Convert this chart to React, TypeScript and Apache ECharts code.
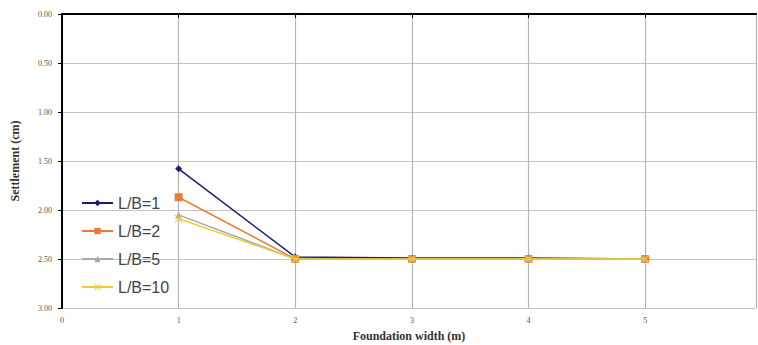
import React, { useEffect, useRef } from "react";
import * as echarts from "echarts";

const widths = [1, 2, 3, 4, 5];
const lb1 = [1.58, 2.48, 2.49, 2.49, 2.5];
const lb2 = [1.87, 2.5, 2.5, 2.5, 2.5];
const lb5 = [2.05, 2.5, 2.5, 2.5, 2.5];
const lb10 = [2.09, 2.5, 2.5, 2.5, 2.5];
const seriesNames = ["L/B=1", "L/B=2", "L/B=5", "L/B=10"];
const colors = ["#1c1a70", "#ea7d36", "#a9aaa8", "#efcb35"];

const xSymbol = "path://M0,1L1,0L5,4L9,0L10,1L6,5L10,9L9,10L5,6L1,10L0,9L4,5Z";

export default function App() {
  const ref = useRef<HTMLDivElement>(null);
  useEffect(() => {
    const chart = echarts.init(ref.current!, null, { renderer: "svg" });
    const all = [lb1, lb2, lb5, lb10];
    const symbols = ["diamond", "rect", "triangle", xSymbol];
    const sizes = [7, 8, 7, 8];
    const tickFont = { fontFamily: "Liberation Serif", fontSize: 8, color: "#555" };
    chart.setOption({
      animation: false,
      backgroundColor: "#fff",
      grid: {
        left: 62,
        top: 14,
        right: 2,
        bottom: 37,
        containLabel: false,
        outerBoundsMode: "none",
      },
      legend: {
        orient: "vertical",
        left: 76,
        top: 190,
        itemGap: 12,
        itemWidth: 31,
        itemHeight: 8,
        textStyle: { fontFamily: "Liberation Sans", fontSize: 16, color: "#444" },
        data: seriesNames,
      },
      xAxis: [
        {
          type: "value",
          min: 0,
          max: 5.95,
          interval: 1,
          axisLine: { show: true, lineStyle: { color: "#000", width: 1.5 } },
          axisTick: { show: true, length: 4, lineStyle: { color: "#000" } },
          axisLabel: { ...tickFont, margin: 8, showMaxLabel: false },
          splitLine: { show: true, lineStyle: { color: "#b5b5b5", width: 1.2 } },
          name: "Foundation width (m)",
          nameLocation: "middle",
          nameGap: 22,
          nameTextStyle: {
            fontFamily: "Liberation Serif",
            fontWeight: "bold",
            fontSize: 12,
            color: "#333",
          },
        },
        {
          type: "value",
          position: "top",
          min: 0,
          max: 5.95,
          interval: 1,
          axisLine: { show: true, lineStyle: { color: "#000", width: 2 } },
          axisTick: { show: false },
          axisLabel: { show: false },
          splitLine: { show: false },
        },
      ],
      yAxis: {
        type: "value",
        inverse: true,
        min: 0,
        max: 3,
        interval: 0.5,
        axisLine: { show: true, lineStyle: { color: "#000", width: 2 } },
        axisTick: { show: true, length: 4, lineStyle: { color: "#000" } },
        axisLabel: {
          ...tickFont,
          margin: 10,
          formatter: (v: number) => v.toFixed(2),
        },
        splitLine: { show: true, lineStyle: { color: "#c4c4c4", width: 1.2 } },
        name: "Settlement (cm)",
        nameLocation: "middle",
        nameGap: 41,
        nameTextStyle: {
          fontFamily: "Liberation Serif",
          fontWeight: "bold",
          fontSize: 12,
          color: "#333",
        },
      },
      series: all.map((d, i) => ({
        name: seriesNames[i],
        type: "line",
        xAxisIndex: 0,
        data: widths.map((w, j) => [w, d[j]]),
        symbol: symbols[i],
        symbolSize: sizes[i],
        itemStyle: { color: colors[i] },
        lineStyle: { color: colors[i], width: 1.5 },
        z: 2 + i,
      })),
    });
    return () => chart.dispose();
  }, []);
  return (
    <div
      ref={ref}
      style={{ position: "fixed", left: 0, top: 0, width: 758, height: 345 }}
    />
  );
}
